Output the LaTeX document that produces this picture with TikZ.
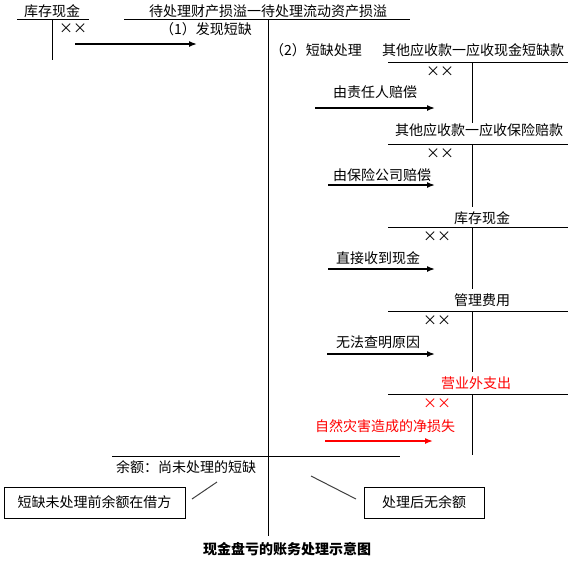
\documentclass[tikz,border=0pt]{standalone}
\usepackage{fontspec}
\setmainfont{Noto Sans CJK SC}
\usepackage{xcolor}
\usetikzlibrary{arrows.meta}
\definecolor{ink}{HTML}{000000}
\definecolor{loss}{HTML}{FF0000}
\newcommand{\txt}{\fontsize{14}{16}\selectfont}

\begin{document}
\begin{tikzpicture}[x=1pt,y=-1pt,
  lbl/.style={inner sep=0pt,font=\txt},
  rule/.style={draw=ink,line width=1pt},
  arr/.style={-{Latex[length=8pt,width=6pt]},line width=1.5pt,ink},
  note/.style={draw=ink,line width=1pt,inner sep=0pt,minimum height=31pt,font=\txt},
  lead/.style={draw=ink!75,line width=1pt}
]
  \useasboundingbox (0,0) rectangle (576,563);

  % left account: cash on hand
  \node[lbl] (cash)  at (52,11)  {库存现金};
  \draw[rule] (17,19) -- (89,19) (52,19) -- (52,60);
  \node[lbl] (cashx) at (73,29)  {××};

  % middle account
  \node[lbl] (pend)  at (268,11) {待处理财产损溢一待处理流动资产损溢};
  \draw[rule] (124,19) -- (410,19) (268,19) -- (268,536);
  \node[lbl] (find)  at (206,29) {（1）发现短缺};
  \node[lbl,anchor=west] (deal) at (270,50) {（2）短缺处理};
  \coordinate (s0) at (75,44);  \coordinate (e0) at (197,44);
  \draw[arr] (s0) -- (e0);

  % right accounts
  \node[lbl] (recv)  at (473,50)  {其他应收款一应收现金短缺款};
  \draw[rule] (388,62) -- (568,62) (472,62) -- (472,123);
  \node[lbl] (recvx) at (440,72)  {××};
  \node[lbl] (resp)  at (375,92)  {由责任人赔偿};
  \coordinate (s1) at (315,108); \coordinate (e1) at (435,108);
  \draw[arr] (s1) -- (e1);

  \node[lbl] (insr)  at (479,130) {其他应收款一应收保险赔款};
  \draw[rule] (388,144) -- (568,144) (472,144) -- (472,207);
  \node[lbl] (insrx) at (440,154) {××};
  \node[lbl] (comp)  at (382,175) {由保险公司赔偿};
  \coordinate (s2) at (328,185); \coordinate (e2) at (435,185);
  \draw[arr] (s2) -- (e2);

  \node[lbl] (cash2)  at (482,218) {库存现金};
  \draw[rule] (388,227) -- (568,227) (472,227) -- (472,289);
  \node[lbl] (cash2x) at (437,237) {××};
  \node[lbl] (got)    at (378,258) {直接收到现金};
  \coordinate (s3) at (328,269); \coordinate (e3) at (435,269);
  \draw[arr] (s3) -- (e3);

  \node[lbl] (admin)  at (482,300) {管理费用};
  \draw[rule] (388,311) -- (568,311) (472,311) -- (472,372);
  \node[lbl] (adminx) at (437,321) {××};
  \node[lbl] (unk)    at (378,342) {无法查明原因};
  \coordinate (s4) at (327,354); \coordinate (e4) at (435,354);
  \draw[arr] (s4) -- (e4);

  \node[lbl,text=loss] (other)  at (476,383) {营业外支出};
  \draw[rule] (388,394) -- (568,394) (472,394) -- (472,455);
  \node[lbl,text=loss] (otherx) at (437,404) {××};
  \node[lbl,text=loss] (disas)  at (385,426) {自然灾害造成的净损失};
  \coordinate (s5) at (325,441); \coordinate (e5) at (433,441);
  \draw[arr,loss] (s5) -- (e5);

  % balance and notes
  \draw[rule] (112,456) -- (400,456);
  \node[lbl] (bal) at (186,467) {余额：尚未处理的短缺};
  \node[note,minimum width=181pt] (before) at (94.5,502.5) {短缺未处理前余额在借方};
  \node[note,minimum width=120pt] (after)  at (424,502.5)  {处理后无余额};
  \coordinate (l1a) at (192,499); \coordinate (l1b) at (217,482);
  \coordinate (l2a) at (311,476); \coordinate (l2b) at (356,499);
  \draw[lead] (l1a) -- (l1b);
  \draw[lead] (l2a) -- (l2b);

  \node[lbl,font=\txt\bfseries] (title) at (287,549) {现金盘亏的账务处理示意图};
\end{tikzpicture}
\end{document}
